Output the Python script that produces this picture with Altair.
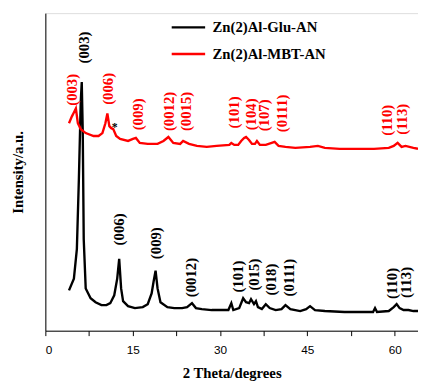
import altair as alt
import pandas as pd

# --- data (2theta in degrees, intensity in a.u.) ---
glu_x = [4.06, 4.90, 5.41, 5.75, 6.08, 6.25, 6.42, 6.59, 6.93, 7.77, 8.62, 9.63, 10.48, 11.15, 11.83,
         12.34, 12.68, 13.01, 13.35, 14.20, 15.38, 16.73, 17.58, 18.25, 18.59, 18.93, 19.27, 19.77,
         20.96, 22.14, 23.49, 24.34, 25.18, 25.86, 26.87, 28.56, 30.25, 31.43, 31.94, 32.28, 33.29,
         33.97, 34.47, 34.98, 35.32, 35.83, 36.17, 36.51, 37.18, 37.86, 38.53, 39.55, 40.56, 41.24,
         42.08, 43.77, 44.79, 45.46, 46.31, 48.00, 51.38, 53.91, 56.28, 56.62, 56.96, 58.98, 59.83,
         60.33, 60.84, 61.52, 62.36, 63.21, 64.0]
glu_y = [410, 530, 830, 1530, 2330, 2530, 2030, 930, 430, 330, 290, 260, 260, 280, 360,
         530, 730, 430, 300, 250, 230, 240, 270, 380, 500, 610, 430, 290,
         240, 230, 230, 240, 280, 230, 220, 210, 210, 210, 280, 210, 230,
         330, 290, 280, 320, 270, 300, 240, 220, 270, 230, 210, 220, 260,
         220, 200, 220, 250, 210, 200, 190, 190, 190, 230, 190, 200, 240,
         270, 230, 210, 210, 200, 200]

mbt_x = [4.06, 4.56, 4.90, 5.24, 5.58, 6.08, 6.93, 8.28, 9.13, 9.80, 10.31, 10.65, 10.99, 11.32,
         11.66, 12.17, 12.84, 14.20, 15.04, 15.55, 16.22, 17.58, 19.27, 20.28, 21.13, 21.97, 23.15,
         23.66, 24.67, 26.03, 27.72, 29.41, 31.60, 31.94, 32.45, 33.12, 33.63, 34.14, 34.47, 34.98,
         35.49, 36.00, 36.34, 36.85, 37.86, 38.87, 39.38, 40.05, 41.24, 42.93, 45.46, 46.81, 48.00,
         50.54, 53.07, 56.45, 58.98, 59.83, 60.50, 61.18, 61.86, 63.21, 64.0]
mbt_y = [2110, 2180, 2220, 2260, 2110, 2050, 2010, 1980, 1980, 2010, 2110, 2210, 2080, 2060,
         2050, 1980, 1950, 1930, 1950, 1960, 1910, 1900, 1900, 1930, 1970, 1910, 1900,
         1930, 1900, 1880, 1870, 1880, 1890, 1910, 1890, 1890, 1930, 1960, 1970, 1940,
         1900, 1900, 1930, 1890, 1890, 1910, 1920, 1880, 1870, 1860, 1870, 1880, 1860,
         1850, 1850, 1850, 1860, 1880, 1910, 1870, 1880, 1860, 1850]

series_names = ["Zn(2)Al-Glu-AN", "Zn(2)Al-MBT-AN"]
series_colors = ["#000000", "#ff0000"]

glu_labels = ["(003)", "(006)", "(009)", "(0012)", "(101)", "(015)", "(018)", "(0111)", "(110)", "(113)"]
glu_label_x = [6.59, 12.68, 19.1, 25.0, 33.1, 35.8, 38.7, 41.9, 59.5, 62.0]
glu_label_y = [2880, 1030, 890, 540, 550, 570, 520, 540, 480, 490]

mbt_labels = ["(003)", "(006)", "(009)", "(0012)", "(0015)", "(101)", "(104)", "(107)", "(0111)", "(110)", "(113)"]
mbt_label_x = [4.56, 10.82, 15.89, 21.29, 24.17, 32.45, 35.32, 37.52, 40.73, 58.64, 61.35]
mbt_label_y = [2450, 2460, 2200, 2230, 2230, 2220, 2200, 2190, 2210, 2140, 2150]

star_x = [11.9]
star_y = [2070]

# --- tables ---
lines = pd.concat([
    pd.DataFrame({"theta": glu_x, "intensity": glu_y, "series": series_names[0], "order": range(len(glu_x))}),
    pd.DataFrame({"theta": mbt_x, "intensity": mbt_y, "series": series_names[1], "order": range(len(mbt_x))}),
])
glu_lab = pd.DataFrame({"label": glu_labels, "theta": glu_label_x, "intensity": glu_label_y})
mbt_lab = pd.DataFrame({"label": mbt_labels, "theta": mbt_label_x, "intensity": mbt_label_y})
star = pd.DataFrame({"label": ["*"], "theta": star_x, "intensity": star_y})

serif = "Liberation Serif"

x_scale = alt.Scale(domain=[0, 64], nice=False, zero=False)
y_scale = alt.Scale(domain=[0, 3230], nice=False)

x_enc = alt.X("theta:Q", scale=x_scale, title="2 Theta/degrees",
              axis=alt.Axis(values=[0, 7.5, 15, 22.5, 30, 37.5, 45, 52.5, 60],
                            labelExpr="datum.value % 15 == 0 ? datum.label : ''",
                            grid=False, tickSize=5, tickColor="black", domainColor="black",
                            labelFont="Liberation Sans", labelFontSize=12, labelColor="black",
                            labelPadding=9,
                            titleFont=serif, titleFontSize=15, titleFontWeight="bold",
                            titleColor="black", titlePadding=11))
y_enc = alt.Y("intensity:Q", scale=y_scale, title="Intensity/a.u.",
              axis=alt.Axis(labels=False, ticks=False, grid=False, domainColor="black",
                            titleFont=serif, titleFontSize=15, titleFontWeight="bold",
                            titleColor="black", titlePadding=20))

line_layer = alt.Chart(lines).mark_line(strokeWidth=2.4).encode(
    x=x_enc, y=y_enc,
    order="order:Q",
    color=alt.Color("series:N",
                    scale=alt.Scale(domain=series_names, range=series_colors),
                    legend=alt.Legend(title=None, orient="none", legendX=127, legendY=-4,
                                      symbolType="stroke", symbolSize=1156, symbolStrokeWidth=2.5,
                                      labelFont=serif, labelFontSize=15, labelFontWeight="bold",
                                      labelColor="black", labelOffset=6, rowPadding=-9, padding=0)),
)

glu_text = alt.Chart(glu_lab).mark_text(angle=270, font=serif, fontSize=15, fontWeight="bold",
                                        color="black", align="center", baseline="middle").encode(
    x=alt.X("theta:Q", scale=x_scale), y=alt.Y("intensity:Q", scale=y_scale), text="label:N")
mbt_text = alt.Chart(mbt_lab).mark_text(angle=270, font=serif, fontSize=15, fontWeight="bold",
                                        color="#ff0000", align="center", baseline="middle").encode(
    x=alt.X("theta:Q", scale=x_scale), y=alt.Y("intensity:Q", scale=y_scale), text="label:N")
star_text = alt.Chart(star).mark_text(font=serif, fontSize=12, fontWeight="bold",
                                      color="black", align="center", baseline="middle").encode(
    x=alt.X("theta:Q", scale=x_scale), y=alt.Y("intensity:Q", scale=y_scale), text="label:N")

chart = alt.layer(line_layer, glu_text, mbt_text, star_text).properties(
    width=379, height=323,
    autosize=alt.AutoSizeParams(type="none"),
    padding={"left": 38, "top": 2, "right": 0, "bottom": 51},
).configure_view(stroke=None).configure(background="white")

chart.save("out.html", embed_options={"renderer": "svg", "actions": False})
